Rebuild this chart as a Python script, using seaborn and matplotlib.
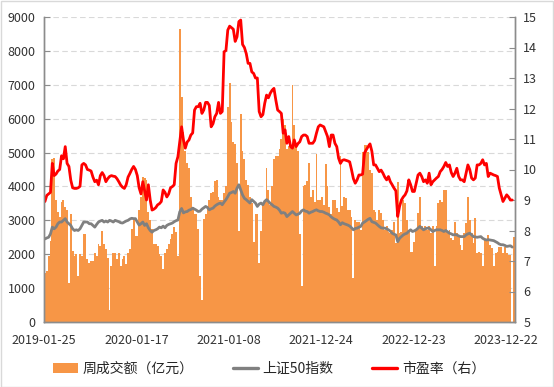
import numpy as np
import matplotlib
matplotlib.use("Agg")
import matplotlib.pyplot as plt
from matplotlib.patches import Patch, Rectangle
from matplotlib.lines import Line2D
import seaborn as sns

sns.set_style("white")
plt.rcParams['font.family'] = ['Noto Sans CJK SC', 'DejaVu Sans']

# weekly turnover (100m yuan), 2019-01-25 .. 2024-01
volume = [
    1450, 1500, 1950, 2400, 4800, 4850, 3600, 3250, 3100, 3550,
    3600, 3400, 3300, 1150, 3200, 2100, 1950, 2000, 1350, 2000,
    1950, 2600, 2600, 1850, 1750, 1800, 1800, 2050, 1950, 2300,
    2250, 2700, 2300, 2150, 1900, 350, 1650, 2050, 2050, 1850,
    2050, 1650, 1850, 1950, 1700, 2050, 2150, 2750, 3000, 2550,
    2550, 3300, 3700, 4290, 4250, 4200, 3250, 3000, 2750, 2300,
    2300, 2250, 2000, 1950, 1550, 2050, 2150, 2300, 2450, 2600,
    2800, 2650, 1950, 8650, 6650, 5600, 5050, 4700, 4550, 3700,
    3400, 3200, 3200, 2750, 1350, 650, 3050, 3200, 3400, 3600,
    3800, 3850, 4150, 4200, 3700, 3600, 3600, 3800, 4000, 6350,
    7050, 5900, 5300, 5250, 4700, 2700, 6150, 5050, 4800, 4200,
    4050, 3700, 3500, 2350, 3200, 3200, 1750, 2700, 3500, 3600,
    4550, 3900, 3450, 4000, 4800, 4900, 4900, 5100, 5400, 6000,
    5800, 5100, 5200, 5200, 7000, 5800, 5150, 5050, 2600, 1050,
    4000, 4050, 4150, 4700, 3700, 3900, 3550, 4950, 3600, 3600,
    3700, 3450, 4650, 4000, 3400, 3200, 3600, 3600, 3350, 3250,
    4890, 3410, 3700, 3650, 3310, 3300, 3110, 1290, 3010, 2960,
    2960, 2720, 5030, 5230, 5230, 5030, 4490, 4390, 3310, 3260,
    3010, 3310, 3210, 3010, 2720, 2820, 2670, 2620, 2720, 2960,
    2320, 4120, 2620, 2670, 3600, 3510, 3010, 2720, 2080, 2080,
    2370, 2720, 3210, 3700, 2820, 2770, 2820, 2720, 2820, 2620,
    2820, 1640, 2820, 3510, 3600, 3550, 3900, 3900, 2620, 2720,
    2470, 2420, 2960, 2620, 2520, 2280, 2130, 2620, 2920, 3700,
    3010, 2620, 2320, 3060, 2030, 2080, 2030, 1640, 2420, 2420,
    2570, 2280, 2180, 1640, 2030, 2080, 2220, 2220, 2030, 2220,
    2030, 1980, 1980, 0, 2520,
]

# SSE 50 index
sse50 = [
    2450, 2480, 2500, 2600, 2800, 2750, 2800, 2900, 2950, 2950,
    3000, 3050, 2950, 2900, 2850, 2750, 2700, 2720, 2700, 2750,
    2850, 2950, 2950, 2950, 2900, 2900, 2850, 2800, 2880, 2950,
    2980, 3000, 2950, 2980, 2950, 3000, 2980, 2950, 3000, 2980,
    2960, 2930, 2920, 2950, 2980, 3000, 3040, 3060, 3050, 3050,
    2950, 2860, 2900, 2950, 2850, 2900, 2780, 2700, 2650, 2700,
    2720, 2750, 2800, 2780, 2830, 2780, 2850, 2880, 2900, 2920,
    2960, 2990, 3010, 3250, 3350, 3220, 3250, 3260, 3300, 3320,
    3360, 3330, 3300, 3260, 3270, 3330, 3370, 3410, 3380, 3310,
    3340, 3360, 3420, 3460, 3490, 3510, 3460, 3540, 3610, 3700,
    3800, 3820, 3850, 3800, 3950, 4050, 3900, 3750, 3650, 3610,
    3560, 3510, 3610, 3560, 3510, 3410, 3480, 3510, 3460, 3560,
    3610, 3560, 3500, 3460, 3410, 3390, 3360, 3300, 3210, 3230,
    3210, 3110, 3160, 3210, 3260, 3210, 3160, 3180, 3210, 3280,
    3310, 3270, 3260, 3210, 3240, 3260, 3290, 3310, 3280, 3260,
    3260, 3240, 3210, 3190, 3160, 3100, 3060, 3030, 3010, 2950,
    2870, 2930, 2900, 2880, 2860, 2830, 2780, 2720, 2760, 2770,
    2800, 2820, 2920, 2950, 2990, 3030, 3060, 2960, 2940, 2920,
    2870, 2820, 2780, 2770, 2770, 2750, 2720, 2680, 2620, 2590,
    2570, 2370, 2470, 2520, 2570, 2600, 2620, 2680, 2720, 2670,
    2690, 2720, 2770, 2820, 2770, 2720, 2750, 2770, 2770, 2720,
    2670, 2700, 2720, 2720, 2720, 2700, 2670, 2700, 2660, 2620,
    2600, 2570, 2580, 2570, 2540, 2520, 2520, 2520, 2570, 2600,
    2620, 2570, 2520, 2510, 2500, 2510, 2520, 2470, 2440, 2420,
    2430, 2420, 2410, 2400, 2370, 2340, 2300, 2280, 2280, 2260,
    2230, 2240, 2250, 2210, np.nan,
]

# PE ratio (right axis)
pe = [
    8.95, 9.15, 9.2, 9.25, 10.2, 9.8, 9.85, 9.95, 10.0, 10.45,
    10.35, 10.75, 10.2, 10.1, 9.65, 9.4, 9.38, 9.38, 9.4, 9.45,
    10.15, 10.2, 10.15, 10.0, 9.98, 9.95, 9.75, 9.6, 9.65, 9.5,
    9.8, 9.9, 9.8, 9.6, 9.7, 9.77, 9.8, 9.78, 9.77, 9.7,
    9.6, 9.49, 9.42, 9.38, 9.5, 9.75, 9.87, 10.0, 10.1, 10.0,
    9.8, 9.4, 9.2, 9.6, 9.3, 9.0, 9.5, 9.0, 8.67, 8.7,
    8.75, 8.84, 8.88, 8.95, 9.33, 9.25, 9.1, 9.2, 9.4, 9.44,
    9.5, 10.2, 10.42, 10.9, 11.4, 10.97, 10.7, 10.9, 10.97, 11.13,
    11.2, 11.95, 12.06, 12.06, 12.17, 11.84, 11.95, 12.2, 12.2, 12.1,
    11.4, 11.5, 11.73, 11.84, 12.2, 11.84, 11.9, 13.86, 13.9, 14.57,
    14.7, 14.65, 14.6, 14.2, 14.35, 14.85, 14.9, 14.1, 14.0, 13.8,
    13.48, 13.48, 13.2, 13.15, 13.0, 13.0, 11.9, 11.73, 11.8, 12.17,
    12.44, 12.35, 12.5, 12.6, 12.66, 12.28, 11.95, 11.9, 11.84, 11.19,
    11.3, 10.86, 11.08, 10.75, 10.7, 10.97, 10.75, 10.85, 10.91, 11.08,
    11.13, 11.13, 11.08, 10.86, 10.86, 10.86, 10.95, 11.19, 11.4, 11.46,
    11.43, 11.4, 11.24, 11.08, 10.75, 11.13, 11.13, 10.86, 10.75, 10.37,
    10.2, 10.3, 10.32, 10.3, 10.28, 10.25, 9.99, 9.7, 9.55, 9.66,
    9.82, 9.82, 9.85, 10.54, 10.65, 10.75, 10.84, 10.6, 10.15, 10.15,
    10.04, 9.93, 9.98, 9.88, 9.75, 9.66, 9.77, 9.6, 9.5, 9.39,
    9.3, 8.46, 8.79, 9.0, 9.1, 9.17, 9.3, 9.66, 9.5, 9.28,
    9.28, 9.55, 9.82, 9.88, 9.77, 9.6, 9.66, 9.55, 9.88, 9.5,
    9.6, 9.66, 9.72, 9.77, 9.93, 10.0, 10.1, 10.23, 10.1, 10.15,
    9.9, 9.77, 9.88, 10.04, 9.77, 9.66, 9.66, 9.6, 9.88, 10.15,
    10.0, 9.72, 9.66, 9.72, 10.15, 10.15, 10.2, 10.32, 10.15, 10.2,
    9.77, 9.88, 9.85, 9.82, 9.8, 9.77, 9.39, 9.17, 8.95, 9.06,
    9.17, 9.1, 9.0, 9.0, np.nan,
]

tick_labels = ['2019-01-25', '2020-01-17', '2021-01-08',
               '2021-12-24', '2022-12-23', '2023-12-22']

orange = '#F79646'
grey = '#808080'
red = '#FF0000'
axis_col = '#8C8C8C'

weeks = np.arange(len(volume))

fig = plt.figure(figsize=(5.54, 3.87), dpi=100)
ax = fig.add_axes([44/554, 1 - 322/387, 471/554, 305/387])

sns.barplot(x=weeks, y=volume, color=orange, width=1.0, linewidth=0,
            saturation=1, ax=ax, zorder=1)
for p in ax.patches:
    p.set_antialiased(False)
sns.lineplot(x=weeks, y=sse50, color=grey, linewidth=2.0, ax=ax, zorder=3)

ax2 = ax.twinx()
sns.lineplot(x=weeks, y=pe, color=red, linewidth=2.0, ax=ax2)

ax.set_xlim(-0.5, len(volume) - 0.5)
ax.set_ylim(0, 9000)
ax.set_yticks(np.arange(0, 9001, 1000))
ax2.set_ylim(5, 15)
ax2.set_yticks(np.arange(5, 16, 1))

ax.set_xticks(np.arange(-0.5, len(volume), 50))
ax.set_xticklabels(tick_labels)
ax.set_xlabel('')
ax.set_ylabel('')
ax2.set_ylabel('')

ax.yaxis.grid(True, color='#D9D9D9', linestyle=(0, (5, 3)), linewidth=0.8)
ax.set_axisbelow(True)

for a in (ax, ax2):
    a.spines['top'].set_visible(False)
    for s in ('left', 'right', 'bottom'):
        a.spines[s].set_color(axis_col)
        a.spines[s].set_linewidth(1.0)

ax.tick_params(axis='x', direction='in', length=4, color=axis_col,
               labelsize=9, pad=9)
ax.tick_params(axis='y', direction='in', length=4, color=axis_col,
               labelsize=9, pad=6)
ax2.tick_params(axis='y', direction='in', length=4, color=axis_col,
                labelsize=9, pad=6)
for lab in ax.get_xticklabels() + ax.get_yticklabels() + ax2.get_yticklabels():
    lab.set_color('#333333')

handles = [Patch(facecolor=orange, edgecolor='none'),
           Line2D([], [], color=grey, linewidth=2.4),
           Line2D([], [], color=red, linewidth=2.4)]
labels = ['周成交额（亿元）', '上证50指数', '市盈率（右）']
fig.legend(handles, labels, loc='center', bbox_to_anchor=(0.486, 0.047),
           ncol=3, frameon=False, fontsize=10, handlelength=1.8,
           handleheight=0.65, handletextpad=0.35, columnspacing=2.8)

fig.patches.append(Rectangle((0.001, 0.001), 0.997, 0.997, transform=fig.transFigure,
                             fill=False, edgecolor='#D9D9D9', linewidth=1))

fig.savefig('out.png', dpi=100)
